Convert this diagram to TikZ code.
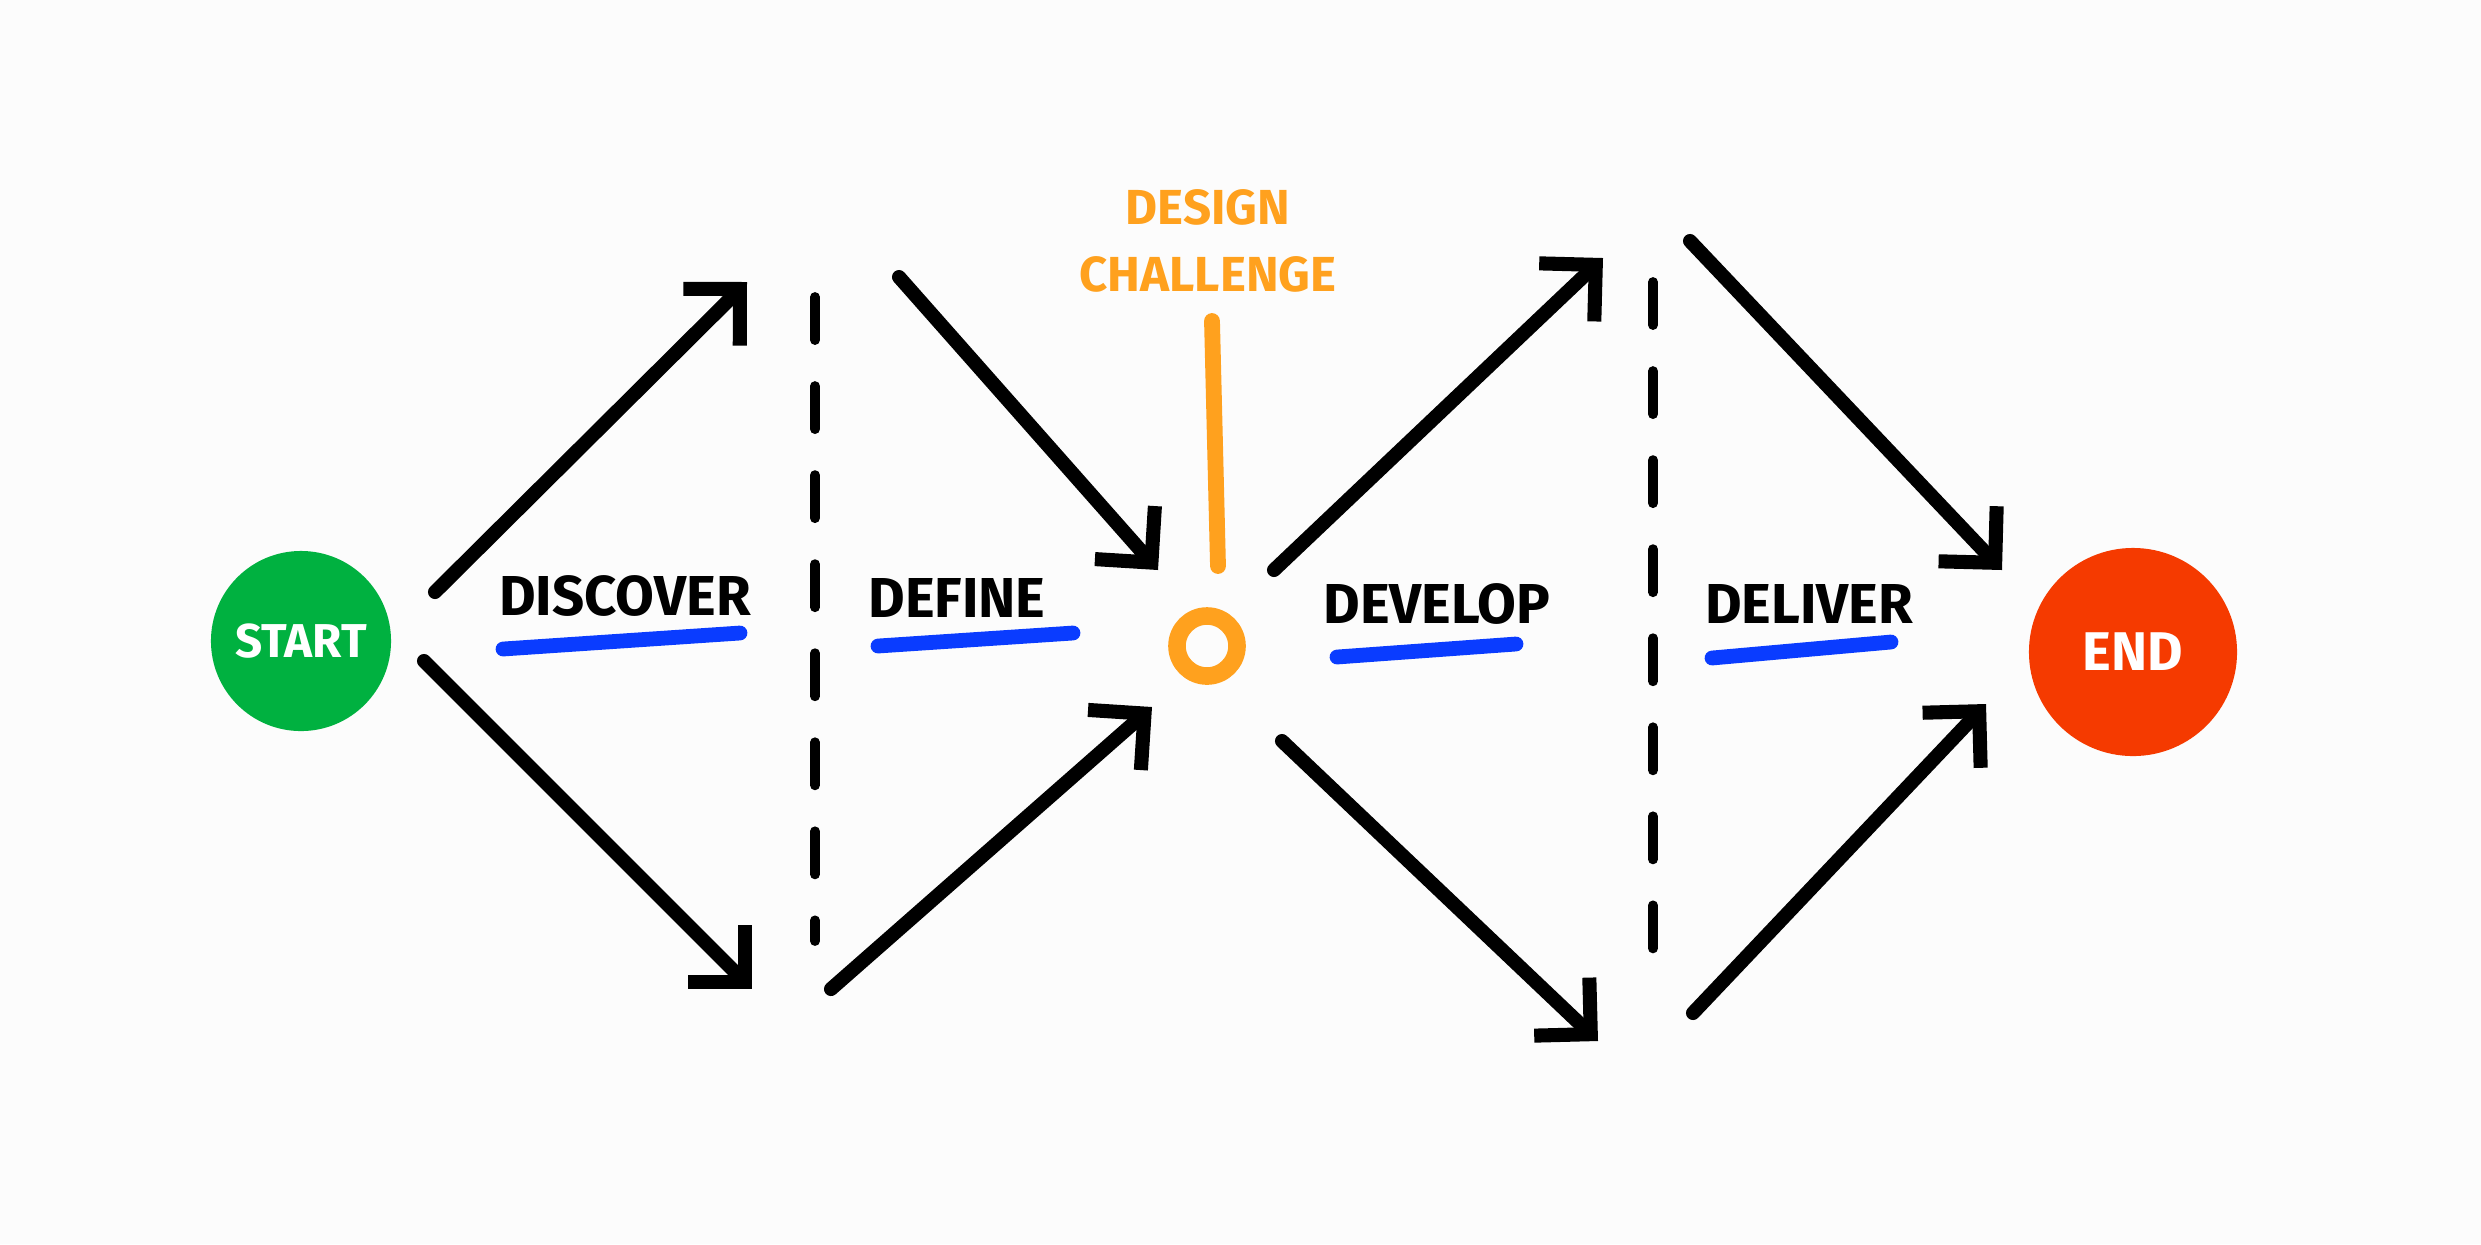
\documentclass[tikz,border=0pt]{standalone}
\usepackage{fontspec}
\setmainfont{Fira Sans}
\usepackage{xcolor}
\usetikzlibrary{arrows.meta, positioning}

\definecolor{startgreen}{HTML}{00B140}
\definecolor{endred}{HTML}{F53A00}
\definecolor{huborange}{HTML}{FFA11E}
\definecolor{lineblue}{HTML}{0A3CFF}
\definecolor{paper}{HTML}{FCFCFC}

\begin{document}
\begin{tikzpicture}[x=0.01cm, y=-0.01cm,
    every node/.style={font=\bfseries},
    goal/.style={circle, inner sep=0pt, text=white},
    phase/.style={font=\fontsize{16}{18}\selectfont\bfseries, text=black},
    move/.style={-{Straight Barb[length=4mm, width=8mm]}, line width=4pt, line cap=round, line join=round},
    under/.style={lineblue, line width=4.2pt, line cap=round},
    split/.style={line width=2.8pt, line cap=round, dash pattern=on 0.43cm off 0.46cm}]
    \fill[paper] (0,0) rectangle (2481,1244);
    \useasboundingbox (0,0) rectangle (2481,1244);

    \node[goal, fill=startgreen, minimum size=1.8cm, font=\fontsize{13.5}{15}\selectfont\bfseries] (start) at (301,641) {START};
    \node[goal, fill=endred, minimum size=2.08cm, font=\fontsize{15.5}{17}\selectfont\bfseries] (finish) at (2133,652) {END};
    \node[circle, draw=huborange, line width=5pt, minimum size=0.6cm, inner sep=0pt] (hub) at (1207,646) {};
    \node[text=huborange, align=center, font=\fontsize{14}{19}\selectfont\bfseries] (challenge) at (1208,241) {DESIGN\\CHALLENGE};
    \coordinate (stem) at (1212,321);
    \coordinate (stemend) at (1218,566);
    \draw[huborange, line width=4.5pt, line cap=round] (stem) -- (stemend);

    % phase labels
    \node[phase] (discover) at (625,596) {DISCOVER};
    \node[phase] (define) at (957,598) {DEFINE};
    \node[phase] (develop) at (1437,604) {DEVELOP};
    \node[phase] (deliver) at (1809,604) {DELIVER};
    \draw[under] (503,649) -- (740,633);
    \draw[under] (878,646) -- (1073,633);
    \draw[under] (1337,657) -- (1516,644);
    \draw[under] (1712,658) -- (1891,642);

    % dividers
    \coordinate (s1) at (815,297);
    \coordinate (e1) at (815,941);
    \coordinate (s2) at (1653,282);
    \coordinate (e2) at (1653,989);
    \draw[split] (s1) -- (e1);
    \draw[split] (s2) -- (e2);

    % arrow ends
    \coordinate (a1) at (435,592);  \coordinate (b1) at (747,282);
    \coordinate (a2) at (424,661);  \coordinate (b2) at (752,989);
    \coordinate (a3) at (899,277);  \coordinate (b3) at (1158,570);
    \coordinate (a4) at (831,989);  \coordinate (b4) at (1152,707);
    \coordinate (a5) at (1274,570); \coordinate (b5) at (1603,258);
    \coordinate (a6) at (1282,741); \coordinate (b6) at (1598,1041);
    \coordinate (a7) at (1690,241); \coordinate (b7) at (2002,570);
    \coordinate (a8) at (1693,1013); \coordinate (b8) at (1986,704);

    \foreach \i in {1,...,8}
        \draw[move] (a\i) -- (b\i);
\end{tikzpicture}
\end{document}
